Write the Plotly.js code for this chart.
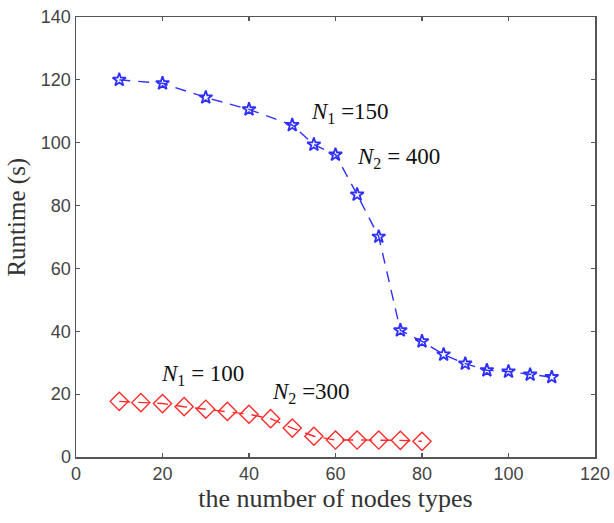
<!DOCTYPE html>
<html>
<head>
<meta charset="utf-8">
<script src="https://cdn.plot.ly/plotly-3.0.1.min.js"></script>
<style>html,body{margin:0;padding:0;background:#fff;}#chart{width:614px;height:523px;}</style>
</head>
<body>
<div id="chart"></div>
<script>
// Data
const blueX = [10, 20, 30, 40, 50, 55, 60, 65, 70, 75, 80, 85, 90, 95, 100, 105, 110];
const blueY = [120, 118.9, 114.4, 110.6, 105.6, 99.4, 96.2, 83.5, 70.1, 40.3, 36.8, 32.6, 29.7, 27.6, 27.2, 26.2, 25.4];
const redX = [10, 15, 20, 25, 30, 35, 40, 45, 50, 55, 60, 65, 70, 75, 80];
const redY = [17.7, 17.3, 17.0, 16.0, 15.2, 14.5, 13.6, 12.2, 9.2, 6.6, 5.4, 5.4, 5.4, 5.3, 5.0];
const xTicks = [0, 20, 40, 60, 80, 100, 120];
const yTicks = [0, 20, 40, 60, 80, 100, 120, 140];
const labelTexts = ['<i>N</i><sub>1</sub> =150', '<i>N</i><sub>2</sub> = 400', '<i>N</i><sub>1</sub> = 100', '<i>N</i><sub>2</sub> =300'];
const labelX = [53.8, 64.6, 19.3, 44.8];
const labelY = [109.5, 95.1, 26.1, 20.4];
const xTitle = 'the number of nodes types';
const yTitle = 'Runtime (s)';

const traces = [
  {
    x: blueX, y: blueY, type: 'scatter', mode: 'lines+markers', showlegend: false,
    line: {color: '#2f2fff', width: 1.4, dash: '11px,8px'},
    marker: {symbol: 'star-open', size: 10, color: '#2f2fff', line: {width: 1.8, color: '#2f2fff'}},
    cliponaxis: false
  },
  {
    x: redX, y: redY, type: 'scatter', mode: 'lines+markers', showlegend: false,
    line: {color: '#ff2a2a', width: 1.4, dash: '11px,8px'},
    marker: {symbol: 'diamond-open', size: 14, color: '#ff2a2a', line: {width: 1.4, color: '#ff2a2a'}},
    cliponaxis: false
  }
];

const annotations = labelTexts.map((t, i) => ({
  text: t, x: labelX[i], y: labelY[i], xref: 'x', yref: 'y',
  xanchor: 'left', yanchor: 'middle', showarrow: false,
  font: {family: 'Liberation Serif, serif', size: 23, color: '#111'}
}));
annotations.push({
  text: yTitle, xref: 'paper', yref: 'paper', x: -0.113, y: 0.545,
  xanchor: 'center', yanchor: 'middle', textangle: -90, showarrow: false,
  font: {family: 'Liberation Serif, serif', size: 25, color: '#333'}
});

const axisCommon = {
  showline: true, linecolor: '#555', linewidth: 1.5, mirror: 'ticks',
  ticks: 'inside', ticklen: 4, tickwidth: 1.2, tickcolor: '#555',
  showgrid: false, zeroline: false,
  tickfont: {family: 'Liberation Sans, Arial, sans-serif', size: 18, color: '#444'}
};

const layout = {
  width: 614, height: 523,
  margin: {l: 76, r: 19, t: 17, b: 66},
  paper_bgcolor: '#fff', plot_bgcolor: '#fff',
  xaxis: Object.assign({}, axisCommon, {
    range: [0, 120], tickmode: 'array', tickvals: xTicks,
    title: {text: xTitle, standoff: 5, font: {family: 'Liberation Serif, serif', size: 26, color: '#333'}}
  }),
  yaxis: Object.assign({}, axisCommon, {
    range: [0, 140], tickmode: 'array', tickvals: yTicks
  }),
  annotations: annotations
};

Plotly.newPlot('chart', traces, layout, {staticPlot: true, displayModeBar: false});
</script>
</body>
</html>
